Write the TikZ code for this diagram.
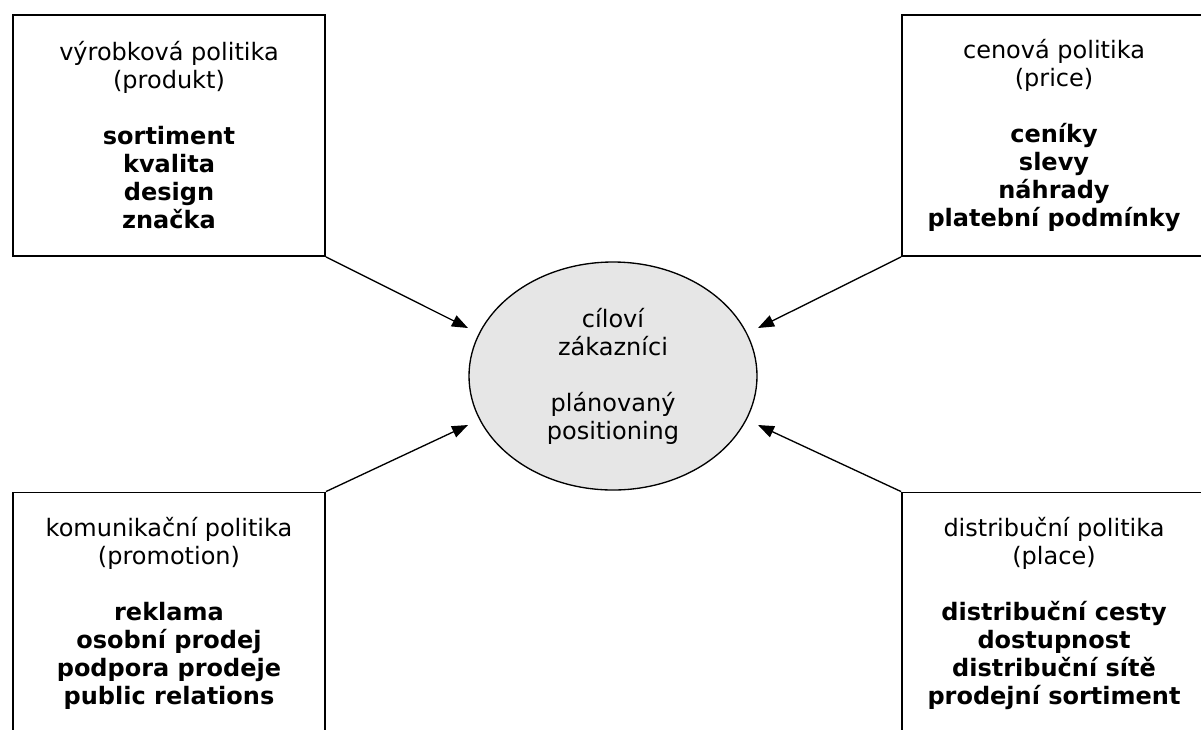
\documentclass[tikz,border=0pt]{standalone}
\usepackage{fontspec}
\setmainfont{DejaVu Sans}
\usepackage{xcolor}
\definecolor{cfill}{HTML}{E6E6E6}
\usetikzlibrary{shapes.geometric,arrows.meta,positioning}

\begin{document}
\begin{tikzpicture}[x=0.75pt,y=-0.75pt,font=\fontsize{18}{21}\selectfont,
  t/.style={rectangle,draw=black,line width=1.4pt,fill=white,align=center,minimum width=234pt,minimum height=180.75pt},
  tr/.style={t,minimum width=228pt},
  cil/.style={ellipse,draw=black,line width=1pt,fill=cfill,align=center,minimum width=216pt,minimum height=171pt},
  arr/.style={-{Triangle[length=12pt,width=9pt]},draw=black,line width=1pt}]
\clip (0,0) rectangle (1201,729);
% four policies
\node[t] (vyr) at (169,135.5) {výrobková politika\\(produkt)\\[21pt]\textbf{sortiment}\\\textbf{kvalita}\\\textbf{design}\\\textbf{značka}};
\node[tr] (cen) at (1054,135.5) {cenová politika\\(price)\\[21pt]\textbf{ceníky}\\\textbf{slevy}\\\textbf{náhrady}\\\textbf{platební podmínky}};
\node[t] (kom) at (169,613) {komunikační politika\\(promotion)\\[21pt]\textbf{reklama}\\\textbf{osobní prodej}\\\textbf{podpora prodeje}\\\textbf{public relations}};
\node[tr] (dis) at (1054,613) {distribuční politika\\(place)\\[21pt]\textbf{distribuční cesty}\\\textbf{dostupnost}\\\textbf{distribuční sítě}\\\textbf{prodejní sortiment}};
% target
\node[cil] (zak) at (613,376) {cíloví\\zákazníci\\[21pt]plánovaný\\positioning};
\coordinate (zv) at (468,328);
\coordinate (zc) at (758,328);
\coordinate (zk) at (468,425);
\coordinate (zd) at (758,425);
\draw[arr] (vyr.south east) -- (zv);
\draw[arr] (cen.south west) -- (zc);
\draw[arr] (kom.north east) -- (zk);
\draw[arr] (dis.north west) -- (zd);
\end{tikzpicture}
\end{document}
